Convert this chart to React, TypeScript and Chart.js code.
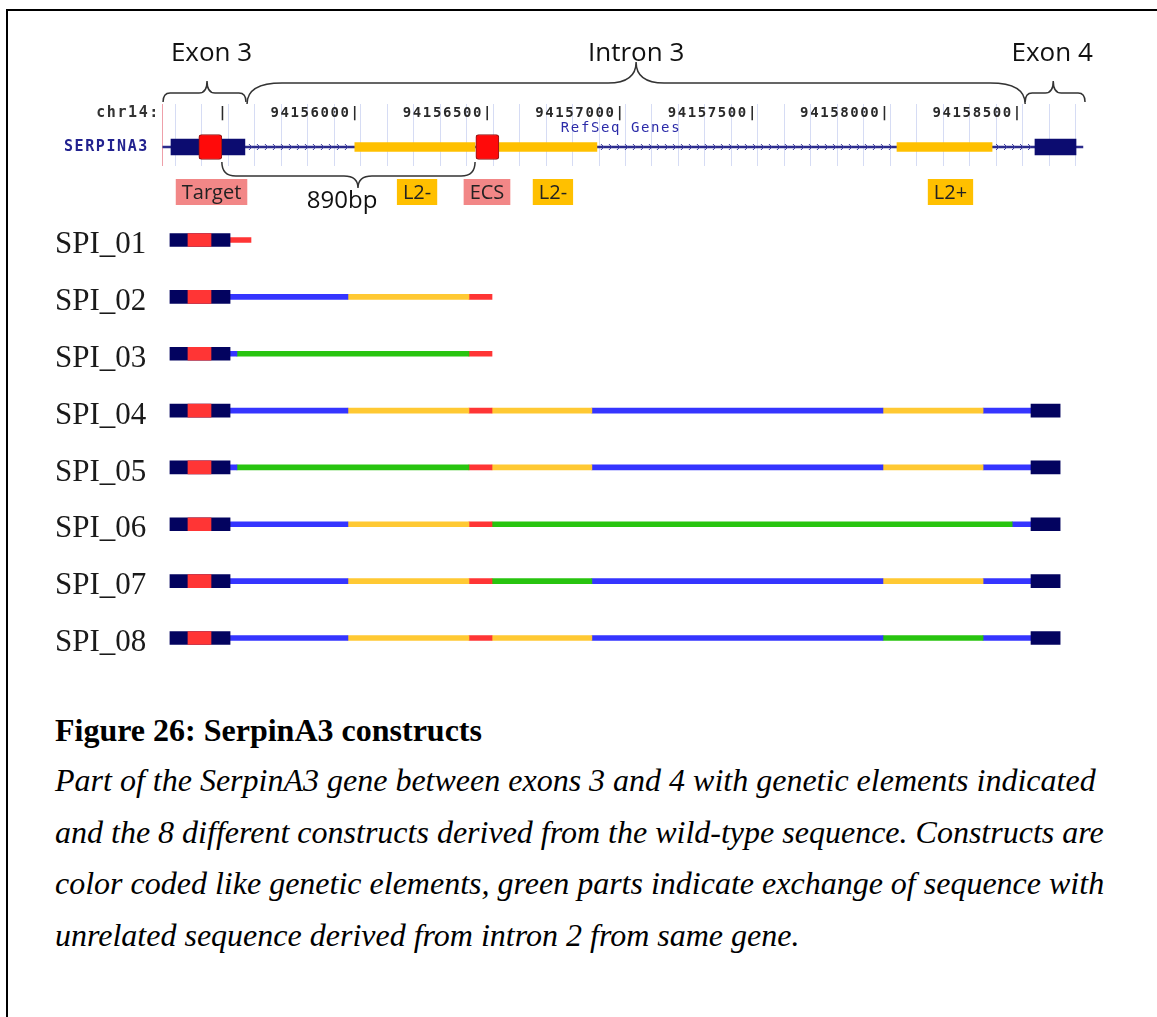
import React, { useEffect, useRef } from 'react';
import { Chart, registerables } from 'chart.js';

Chart.register(...registerables);

// ---------------- shared genomic axis (bp on chr14) ----------------
const X_MIN = 94155250;
const X_MAX = 94158750;

// ---------------- genome browser track ----------------
const trackLabels = ['SERPINA3'];
const geneSpan = [94155253, 94158727];
const exonSpans = [[94155284, 94155563], [94158546, 94158701]];
const l2Spans = [[94155978, 94156432], [94156522, 94156892], [94158025, 94158384]];
const siteSpans = [[94155389, 94155476], [94156435, 94156522]]; // Target, ECS
const intronArrowSpans = [[94155563, 94155978], [94156892, 94158025], [94158384, 94158546]];
const rulerTicks = [94155500, 94156000, 94156500, 94157000, 94157500, 94158000, 94158500];
const rulerLabels = ['|', '94156000|', '94156500|', '94157000|', '94157500|', '94158000|', '94158500|'];
const rulerMinorStep = 100;
const chromLabel = 'chr14:';
const trackTitle = 'RefSeq Genes';
const trackTitleAt = 94156983;

const regionNames = ['Exon 3', 'Intron 3', 'Exon 4'];
const regionStarts = [94155254, 94155571, 94158509];
const regionEnds = [94155567, 94158509, 94158735];
const regionTips = [94155420, 94157040, 94158615];
const regionLabelAt = [94155437, 94157040, 94158611];

const elementNames = ['Target', 'L2-', 'ECS', 'L2-', 'L2+'];
const elementCenters = [94155437, 94156213, 94156477, 94156726, 94158227];
const elementKinds = ['site', 'l2', 'site', 'l2', 'l2'];

const distanceText = '890bp';
const distanceSpan = [94155476, 94156432];
const distanceTip = 94155990;
const distanceTextAt = 94155930;

// ---------------- constructs ----------------
const constructNames = ['SPI_01', 'SPI_02', 'SPI_03', 'SPI_04', 'SPI_05', 'SPI_06', 'SPI_07', 'SPI_08'];
const exon3Span = [94155280, 94155507];
const targetSpan = [94155348, 94155435];
const exon4Span = [94158531, 94158641];
const hasExon4 = [false, false, false, true, true, true, true, true];
// segment kinds: I = intron, L = L2 element, E = ECS, G = unrelated (intron 2) sequence
const spi01 = [[94155507, 94155586, 'E']];
const spi02 = [[94155507, 94155952, 'I'], [94155952, 94156409, 'L'], [94156409, 94156496, 'E']];
const spi03 = [[94155507, 94155533, 'I'], [94155533, 94156409, 'G'], [94156409, 94156496, 'E']];
const spi04 = [[94155507, 94155952, 'I'], [94155952, 94156409, 'L'], [94156409, 94156496, 'E'], [94156496, 94156873, 'L'], [94156873, 94157972, 'I'], [94157972, 94158350, 'L'], [94158350, 94158531, 'I']];
const spi05 = [[94155507, 94155533, 'I'], [94155533, 94156409, 'G'], [94156409, 94156496, 'E'], [94156496, 94156873, 'L'], [94156873, 94157972, 'I'], [94157972, 94158350, 'L'], [94158350, 94158531, 'I']];
const spi06 = [[94155507, 94155952, 'I'], [94155952, 94156409, 'L'], [94156409, 94156496, 'E'], [94156496, 94158460, 'G'], [94158460, 94158531, 'I']];
const spi07 = [[94155507, 94155952, 'I'], [94155952, 94156409, 'L'], [94156409, 94156496, 'E'], [94156496, 94156873, 'G'], [94156873, 94157972, 'I'], [94157972, 94158350, 'L'], [94158350, 94158531, 'I']];
const spi08 = [[94155507, 94155952, 'I'], [94155952, 94156409, 'L'], [94156409, 94156496, 'E'], [94156496, 94156873, 'L'], [94156873, 94157972, 'I'], [94157972, 94158350, 'G'], [94158350, 94158531, 'I']];

const captionTitle = 'Figure 26: SerpinA3 constructs';
const captionLines = [
  'Part of the SerpinA3 gene between exons 3 and 4 with genetic elements indicated',
  'and the 8 different constructs derived from the wild-type sequence. Constructs are',
  'color coded like genetic elements, green parts indicate exchange of sequence with',
  'unrelated sequence derived from intron 2 from same gene.',
];

// ---------------- styles ----------------
const SEG_COLORS: Record<string, string> = { I: '#3535ff', L: '#ffc933', E: '#ff3535', G: '#28c40f' };
const C_EXON = '#03035f';
const C_TARGET = '#ff3535';
const MONO = '"DejaVu Sans Mono", "Liberation Mono", monospace';
const SANS = '"Open Sans", "Noto Sans", sans-serif';
const SERIF = '"Liberation Serif", "Times New Roman", serif';
const W = 1157;

function drawBrace(ctx: CanvasRenderingContext2D, x1: number, x2: number, xt: number, yEnd: number, yMid: number, yTip: number, rEnd: number, rTip: number) {
  ctx.beginPath();
  ctx.moveTo(x1, yEnd);
  ctx.quadraticCurveTo(x1, yMid, x1 + rEnd, yMid);
  ctx.lineTo(xt - rTip, yMid);
  ctx.quadraticCurveTo(xt, yMid, xt, yTip);
  ctx.quadraticCurveTo(xt, yMid, xt + rTip, yMid);
  ctx.lineTo(x2 - rEnd, yMid);
  ctx.quadraticCurveTo(x2, yMid, x2, yEnd);
  ctx.stroke();
}

const trackPlugin = {
  id: 'trackAnnotations',
  beforeDraw(chart: any) {
    chart.ctx.letterSpacing = '1.6px';
  },
  beforeDatasetsDraw(chart: any) {
    chart.ctx.letterSpacing = '0px';
  },
  afterDatasetsDraw(chart: any) {
    const ctx = chart.ctx as CanvasRenderingContext2D;
    const xs = chart.scales.x;
    const y = chart.scales.y.getPixelForValue(0);
    ctx.save();
    ctx.strokeStyle = '#3a3aa0';
    ctx.lineWidth = 1;
    intronArrowSpans.forEach(([a, b]) => {
      const p1 = xs.getPixelForValue(a);
      const p2 = xs.getPixelForValue(b);
      for (let px = p1 + 6; px < p2 - 3; px += 8) {
        ctx.beginPath();
        ctx.moveTo(px - 2, y - 3);
        ctx.lineTo(px + 1, y);
        ctx.lineTo(px - 2, y + 3);
        ctx.stroke();
      }
    });
    ctx.restore();
  },
  afterDraw(chart: any) {
    const ctx = chart.ctx as CanvasRenderingContext2D;
    const xs = chart.scales.x;
    const px = (v: number) => xs.getPixelForValue(v);
    ctx.save();
    ctx.letterSpacing = '0px';
    // region labels + braces
    ctx.strokeStyle = '#333';
    ctx.lineWidth = 1.5;
    ctx.fillStyle = '#111';
    ctx.font = `26px ${SANS}`;
    ctx.textAlign = 'center';
    ctx.textBaseline = 'middle';
    regionNames.forEach((name, i) => {
      const x1 = px(regionStarts[i]);
      const x2 = px(regionEnds[i]);
      const xt = px(regionTips[i]);
      const wide = x2 - x1 > 200;
      ctx.fillText(name, px(regionLabelAt[i]), 54);
      if (wide) drawBrace(ctx, x1, x2, xt, 104, 83, 62, 35, 28);
      else drawBrace(ctx, x1, x2, xt, 102, 93, 81, 7, 8);
    });
    // chromosome label and track title
    ctx.letterSpacing = '1.6px';
    ctx.font = `bold 15px ${MONO}`;
    ctx.fillStyle = '#333';
    ctx.textAlign = 'right';
    ctx.fillText(chromLabel, 160, 113);
    ctx.font = `14px ${MONO}`;
    ctx.fillStyle = '#2b2ba8';
    ctx.textAlign = 'center';
    ctx.fillText(trackTitle, px(trackTitleAt), 128);
    ctx.letterSpacing = '0px';
    // distance brace
    ctx.strokeStyle = '#333';
    ctx.lineWidth = 1.5;
    drawBrace(ctx, px(distanceSpan[0]), px(distanceSpan[1]), px(distanceTip), 162, 176, 188, 14, 14);
    ctx.font = `24px ${SANS}`;
    ctx.fillStyle = '#111';
    ctx.textAlign = 'center';
    ctx.fillText(distanceText, px(distanceTextAt), 201);
    // element tags
    ctx.font = `20px ${SANS}`;
    elementNames.forEach((name, i) => {
      const cx = px(elementCenters[i]);
      const w = ctx.measureText(name).width + 12;
      const h = 26;
      ctx.fillStyle = elementKinds[i] === 'site' ? '#f28787' : '#ffc000';
      ctx.fillRect(cx - w / 2, 192 - h / 2, w, h);
      ctx.fillStyle = '#222';
      ctx.fillText(name, cx, 193);
    });
    ctx.restore();
  },
};

function TrackChart() {
  const ref = useRef<HTMLCanvasElement>(null);
  useEffect(() => {
    const datasets: any[] = [];
    siteSpans.forEach((s) =>
      datasets.push({ data: [s], backgroundColor: '#ff0a0a', borderColor: '#8a1818', borderWidth: 1, borderRadius: 3, borderSkipped: false, barThickness: 25, grouped: false })
    );
    exonSpans.forEach((s) => datasets.push({ data: [s], backgroundColor: '#0c0c70', barThickness: 16, grouped: false }));
    l2Spans.forEach((s) => datasets.push({ data: [s], backgroundColor: '#ffc000', barThickness: 9, grouped: false }));
    datasets.push({ data: [geneSpan], backgroundColor: '#2b2b8c', barThickness: 2, grouped: false });

    const chart = new Chart(ref.current as HTMLCanvasElement, {
      type: 'bar',
      data: { labels: trackLabels, datasets },
      options: {
        indexAxis: 'y',
        responsive: false,
        animation: false,
        events: [],
        layout: { padding: { left: 0, right: 68, top: 104, bottom: 49 } },
        plugins: { legend: { display: false }, tooltip: { enabled: false } },
        scales: {
          x: {
            type: 'linear',
            position: 'top',
            min: X_MIN,
            max: X_MAX,
            afterBuildTicks: (s: any) => {
              const t = [{ value: X_MIN }];
              for (let v = Math.ceil(X_MIN / rulerMinorStep) * rulerMinorStep; v <= X_MAX; v += rulerMinorStep) t.push({ value: v });
              s.ticks = t;
            },
            afterFit: (s: any) => {
              s.height = 24;
            },
            grid: {
              drawTicks: true,
              tickLength: 24,
              lineWidth: 1,
              color: (c: any) => (c.tick && c.tick.value === X_MIN ? 'rgba(236,150,160,0.9)' : 'rgba(200,208,240,0.75)'),
            },
            border: { display: false },
            ticks: {
              autoSkip: false,
              maxRotation: 0,
              minRotation: 0,
              align: 'end',
              padding: -18,
              color: '#2a2a2a',
              font: { family: MONO, size: 14, weight: 'bold' },
              callback: (value: any) => {
                const i = rulerTicks.indexOf(Number(value));
                return i >= 0 ? rulerLabels[i] : '';
              },
            },
          },
          y: {
            type: 'category',
            grid: { display: false },
            border: { display: false },
            afterFit: (s: any) => {
              s.width = 162;
            },
            ticks: { padding: 5, color: '#22228f', font: { family: MONO, size: 15, weight: 'bold' } },
          },
        },
      } as any,
      plugins: [trackPlugin],
    });
    return () => chart.destroy();
  }, []);
  return <canvas ref={ref} width={W} height={215} style={{ position: 'absolute', left: 0, top: 0 }} />;
}

function ConstructChart() {
  const ref = useRef<HTMLCanvasElement>(null);
  useEffect(() => {
    const segs = [spi01, spi02, spi03, spi04, spi05, spi06, spi07, spi08] as any[][];
    const maxSeg = Math.max(...segs.map((s) => s.length));
    const thin: any[] = [];
    for (let k = 0; k < maxSeg; k++) {
      thin.push({
        data: segs.map((s) => (s[k] ? [s[k][0], s[k][1]] : null)),
        backgroundColor: segs.map((s) => (s[k] ? SEG_COLORS[s[k][2]] : 'rgba(0,0,0,0)')),
        barThickness: 5,
        grouped: false,
      });
    }
    const datasets: any[] = [
      { data: constructNames.map(() => targetSpan), backgroundColor: C_TARGET, barThickness: 13, grouped: false },
      { data: constructNames.map(() => exon3Span), backgroundColor: C_EXON, barThickness: 13, grouped: false },
      { data: hasExon4.map((h) => (h ? exon4Span : null)), backgroundColor: C_EXON, barThickness: 13, grouped: false },
      ...thin,
    ];
    const chart = new Chart(ref.current as HTMLCanvasElement, {
      type: 'bar',
      data: { labels: constructNames, datasets },
      options: {
        indexAxis: 'y',
        responsive: false,
        animation: false,
        events: [],
        layout: { padding: { left: 55, right: 68, top: 21.6, bottom: 23.6 } },
        plugins: { legend: { display: false }, tooltip: { enabled: false } },
        scales: {
          x: { type: 'linear', min: X_MIN, max: X_MAX, display: false },
          y: {
            type: 'category',
            grid: { display: false },
            border: { display: false },
            afterFit: (s: any) => {
              s.width = 107;
            },
            ticks: { crossAlign: 'far', padding: 0, labelOffset: 5, color: '#1a1a1a', font: { family: SERIF, size: 31 } },
          },
        },
      } as any,
    });
    return () => chart.destroy();
  }, []);
  return <canvas ref={ref} width={W} height={500} style={{ position: 'absolute', left: 0, top: 190 }} />;
}

export default function App() {
  return (
    <div style={{ position: 'relative', width: W, height: 1017, overflow: 'hidden', background: '#fff' }}>
      <style>{'html,body{margin:0;padding:0;overflow:hidden;background:#fff}'}</style>
      <div
        style={{
          position: 'absolute',
          left: 6,
          top: 9,
          width: W - 6,
          height: 1008,
          borderTop: '2px solid #000',
          borderLeft: '2px solid #000',
          boxSizing: 'border-box',
        }}
      />
      <TrackChart />
      <ConstructChart />
      <div
        style={{
          position: 'absolute',
          left: 55,
          top: 712,
          fontFamily: SERIF,
          fontWeight: 'bold',
          fontSize: 32,
          lineHeight: '36px',
          color: '#000',
          whiteSpace: 'nowrap',
        }}
      >
        {captionTitle}
      </div>
      <div
        style={{
          position: 'absolute',
          left: 55,
          top: 755,
          fontFamily: SERIF,
          fontStyle: 'italic',
          fontSize: 32,
          lineHeight: '51.5px',
          color: '#000',
          whiteSpace: 'nowrap',
        }}
      >
        {captionLines.map((l, i) => (
          <div key={i}>{l}</div>
        ))}
      </div>
    </div>
  );
}
